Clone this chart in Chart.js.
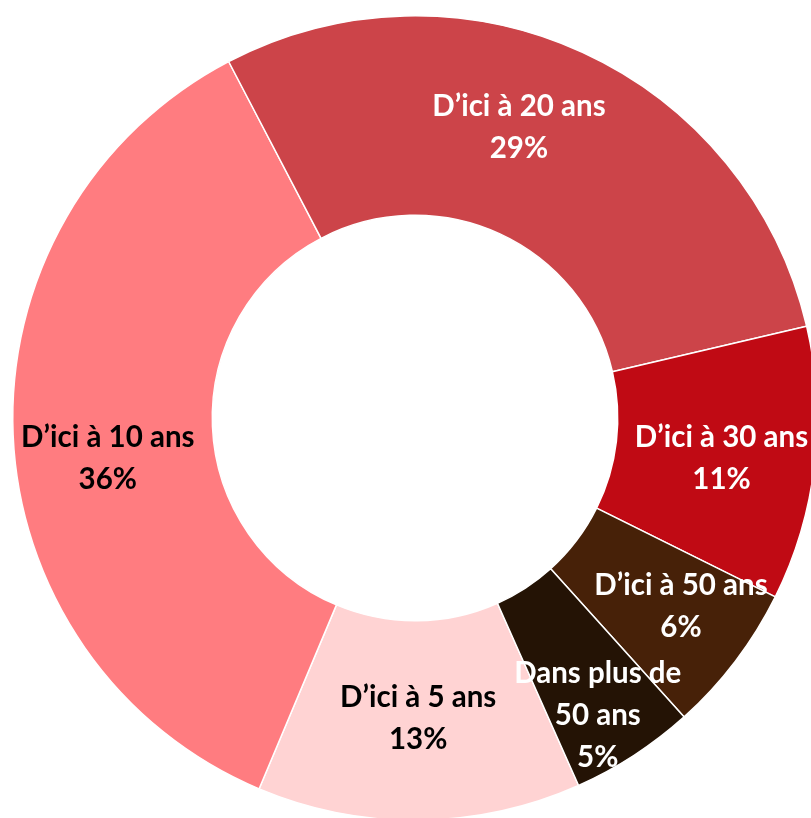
<!DOCTYPE html>
<html lang="fr">
<head>
<meta charset="utf-8">
<script src="https://cdn.jsdelivr.net/npm/chart.js@4/dist/chart.umd.min.js"></script>
<style>
  html, body { margin: 0; padding: 0; background: #fff; overflow: hidden; width: 811px; height: 818px; }
  #wrap { position: absolute; left: 0; top: 3px; width: 830px; height: 830px; }
</style>
</head>
<body>
<div id="wrap"><canvas id="horizonChart" width="830" height="830"></canvas></div>
<script>
// Données
const categories = [['D’ici à 5 ans'], ['D’ici à 10 ans'], ['D’ici à 20 ans'], ['D’ici à 30 ans'], ['D’ici à 50 ans'], ['Dans plus de', '50 ans']];
const shares = [13, 36, 29, 11, 6, 5];

// Couleurs
const sliceColors = ['#FFD3D3', '#FF7C80', '#CC4449', '#C00A14', '#472108', '#241305'];
const labelColors = ['#000000', '#000000', '#FFFFFF', '#FFFFFF', '#FFFFFF', '#FFFFFF'];
// petits décalages des étiquettes (comme Excel)
const labelNudge = [[0, -2], [-5, 28], [-22, -15], [6, 6], [25, 6], [18, 44]];

const labelFont = 'bold 29.5px Lato, "Open Sans", sans-serif';
const lineHeight = 42;

// plugin maison : étiquettes dans les segments
const sliceLabels = {
    id: 'sliceLabels',
    afterDatasetsDraw(chart) {
        const ctx = chart.ctx;
        const meta = chart.getDatasetMeta(0);
        ctx.save();
        ctx.font = labelFont;
        ctx.textAlign = 'center';
        ctx.textBaseline = 'middle';
        meta.data.forEach((arc, i) => {
            const p = arc.getCenterPoint();
            const lines = categories[i].concat([shares[i] + '%']);
            const x = p.x + labelNudge[i][0];
            let y = p.y + labelNudge[i][1] - (lines.length - 1) * lineHeight / 2;
            ctx.fillStyle = labelColors[i];
            lines.forEach(t => {
                ctx.fillText(t, x, y);
                y += lineHeight;
            });
        });
        ctx.restore();
    }
};

new Chart(document.getElementById('horizonChart'), {
    type: 'doughnut',
    data: {
        labels: categories.map(c => c.join(' ')),
        datasets: [{
            data: shares,
            backgroundColor: sliceColors,
            borderColor: '#FFFFFF',
            borderWidth: 1.5,
            hoverOffset: 0
        }]
    },
    options: {
        responsive: false,
        devicePixelRatio: 1,
        animation: false,
        rotation: 156,
        cutout: '50.4%',
        layout: { padding: 12 },
        plugins: {
            legend: { display: false },
            tooltip: { enabled: false }
        }
    },
    plugins: [sliceLabels]
});
</script>
</body>
</html>
